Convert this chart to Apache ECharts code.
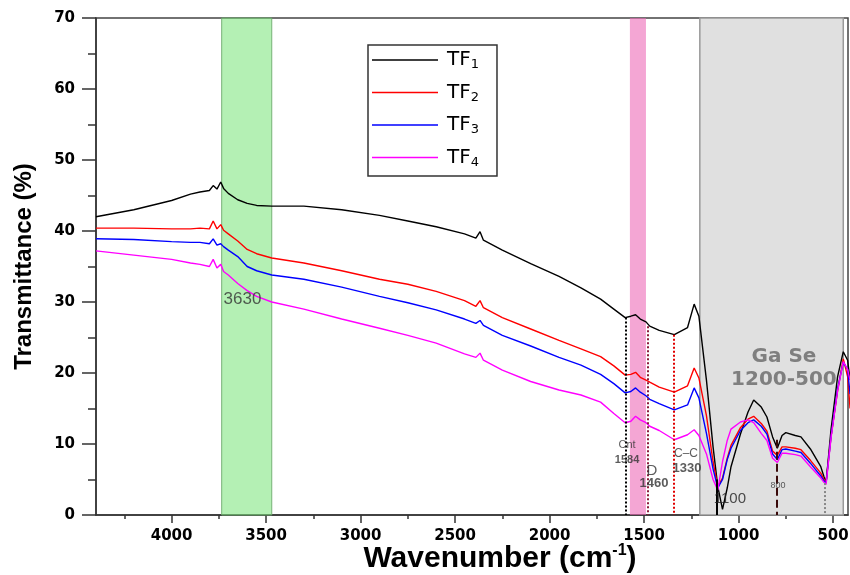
<!DOCTYPE html>
<html style="height: 100%">

<head>
    <meta charset="utf-8">
</head>

<body style="height: 100%; margin: 0; background: #fff">
    <div id="container" style="width: 850px; height: 575px"></div>
    <script type="text/javascript" src="https://cdn.jsdelivr.net/npm/echarts@6/dist/echarts.min.js"></script>
    <script type="text/javascript">
        // wavenumber grid (cm-1), shared by all four spectra
        var wn = [4400, 4200, 4000, 3900, 3850, 3800, 3780, 3760, 3740, 3725,
            3700, 3650, 3600, 3550, 3470, 3300, 3100, 2900, 2750, 2600,
            2450, 2390, 2368, 2350, 2250, 2100, 1950, 1834, 1730, 1660,
            1600, 1570, 1545, 1520, 1490, 1470, 1420, 1340, 1270, 1235,
            1210, 1170, 1135, 1110, 1085, 1060, 1040, 990, 950, 920,
            880, 850, 820, 795, 770, 750, 700, 670, 620, 565,
            548, 537, 511, 476, 446, 423, 410];

        var tf1 = [42.0, 43.0, 44.3, 45.2, 45.5, 45.7, 46.4, 45.9, 46.9, 46.0,
            45.3, 44.4, 43.9, 43.6, 43.5, 43.5, 43.0, 42.2, 41.4, 40.6,
            39.6, 39.0, 39.9, 38.7, 37.3, 35.4, 33.6, 32.0, 30.4, 29.0,
            27.8, 28.0, 28.2, 27.6, 27.2, 26.6, 26.0, 25.4, 26.4, 29.7,
            28.0, 19.0, 9.6, 4.0, 0.8, 3.8, 6.8, 11.4, 14.5, 16.2,
            15.2, 13.8, 11.0, 9.4, 11.2, 11.6, 11.2, 11.0, 9.3, 6.8,
            5.4, 4.5, 12.0, 19.5, 23.0, 21.8, 19.0];
        var tf2 = [40.4, 40.4, 40.3, 40.3, 40.4, 40.3, 41.4, 40.3, 40.9, 40.1,
            39.6, 38.6, 37.4, 36.8, 36.2, 35.5, 34.4, 33.2, 32.5, 31.5,
            30.2, 29.4, 30.2, 29.2, 27.8, 26.2, 24.6, 23.4, 22.3, 21.0,
            19.7, 19.8, 20.1, 19.4, 19.0, 18.7, 18.0, 17.3, 18.2, 20.7,
            19.3, 14.0, 7.5, 4.0, 5.2, 8.0, 9.8, 12.3, 13.5, 13.9,
            12.9, 11.8, 9.0, 8.4, 9.6, 9.6, 9.4, 9.2, 7.7, 5.9,
            5.0, 4.7, 11.0, 17.5, 22.0, 19.5, 15.0];
        var tf3 = [38.9, 38.8, 38.5, 38.4, 38.4, 38.2, 38.9, 38.0, 38.2, 37.8,
            37.3, 36.4, 35.0, 34.4, 33.8, 33.2, 32.1, 30.8, 29.9, 28.9,
            27.6, 27.0, 27.4, 26.7, 25.3, 23.8, 22.2, 21.1, 19.8, 18.5,
            17.2, 17.4, 17.9, 17.3, 16.8, 16.3, 15.7, 14.8, 15.5, 17.9,
            16.5, 11.5, 6.5, 3.8, 5.0, 7.8, 9.4, 11.9, 13.0, 13.4,
            12.5, 11.4, 8.6, 7.8, 9.2, 9.3, 9.0, 8.8, 7.3, 5.5,
            4.8, 4.5, 11.0, 17.8, 21.5, 20.5, 17.0];
        var tf4 = [37.2, 36.6, 36.0, 35.5, 35.3, 35.0, 36.0, 34.8, 35.3, 34.3,
            33.8, 32.6, 31.6, 30.8, 30.0, 29.0, 27.6, 26.3, 25.3, 24.2,
            22.7, 22.2, 22.8, 21.8, 20.4, 18.8, 17.6, 16.9, 15.9, 14.3,
            13.0, 13.2, 13.9, 13.4, 13.0, 12.5, 11.9, 10.6, 11.3, 12.0,
            11.2, 8.6, 5.0, 3.5, 7.5, 10.5, 12.1, 13.1, 13.4, 13.0,
            11.5, 10.5, 8.0, 7.4, 8.7, 8.7, 8.5, 8.3, 6.8, 5.2,
            4.6, 4.3, 10.8, 17.5, 21.6, 20.5, 19.0];

        var seriesNames = ['TF1', 'TF2', 'TF3', 'TF4'];
        var seriesColors = ['#000000', '#ff0000', '#0000ff', '#ff00ff'];
        var spectra = [tf1, tf2, tf3, tf4];

        var xTicks = [4000, 3500, 3000, 2500, 2000, 1500, 1000, 500];
        var xMinorTicks = [4250, 3750, 3250, 2750, 2250, 1750, 1250, 750];

        // shaded regions [from, to] in cm-1
        var greyBand = [1205, 446];
        var greenBand = [3735, 3470];
        var pinkBand = [1575, 1490];

        // peak marker lines: position, top of line (%)
        var markPos = [1597, 1479, 1342, 1116, 798, 543];
        var markTop = [27.8, 26.6, 25.4, 5.0, 10.6, 4.5];

        // annotation texts and their anchors (wavenumber, %)
        var annText = ['3630', 'Ga Se', '1200-500', 'Cnt', '1584', 'D', '1460', 'C\u2013C', '1330', '1100', '800'];
        var annWn = [3625, 760, 760, 1590, 1590, 1458, 1448, 1278, 1273, 1046, 792];
        var annVal = [30.4, 22.3, 19.0, 9.9, 7.7, 6.2, 4.4, 8.7, 6.6, 2.3, 4.2];

        var annStyle = [
            { fontSize: 17, color: '#333' },
            { fontFamily: 'DejaVu Sans', fontSize: 20, fontWeight: 'bold', color: '#666' },
            { fontFamily: 'DejaVu Sans', fontSize: 20, fontWeight: 'bold', color: '#666' },
            { fontSize: 11, color: '#333' },
            { fontSize: 11, fontWeight: 'bold', color: '#333' },
            { fontSize: 15, color: '#333' },
            { fontSize: 13, fontWeight: 'bold', color: '#333' },
            { fontSize: 12, color: '#333' },
            { fontSize: 13, fontWeight: 'bold', color: '#333' },
            { fontSize: 15, color: '#222' },
            { fontSize: 9, color: '#333' }
        ];
        var markStyle = [
            { color: '#000', type: 'dotted', width: 2 },
            { color: '#8b1a3a', type: 'dotted', width: 2 },
            { color: '#e00000', type: 'dotted', width: 2 },
            { color: '#000', type: 'solid', width: 2 },
            { color: '#3a0a0a', type: 'dashed', width: 2 },
            { color: '#888', type: 'dotted', width: 2 }
        ];

        var dom = document.getElementById("container");
        var myChart = echarts.init(dom);

        var series = [];

        series.push({
            name: 'bands-under',
            type: 'line',
            data: [],
            z: 1,
            silent: true,
            markArea: {
                silent: true,
                itemStyle: { color: '#e0e0e0', borderColor: '#999', borderWidth: 1.5 },
                data: [[{ xAxis: greyBand[0] }, { xAxis: greyBand[1] }]]
            }
        });

        spectra.forEach(function (vals, i) {
            series.push({
                name: seriesNames[i],
                type: 'line',
                symbol: 'none',
                z: 2,
                lineStyle: { color: seriesColors[i], width: 1.4 },
                itemStyle: { color: seriesColors[i] },
                data: wn.map(function (w, k) { return [w, vals[k]]; })
            });
        });

        series.push({
            name: 'bands-over',
            type: 'line',
            data: [],
            z: 5,
            silent: true,
            markArea: {
                silent: true,
                data: [
                    [{ xAxis: greenBand[0], itemStyle: { color: 'rgba(119,228,119,0.55)', borderColor: 'rgba(110,170,110,0.9)', borderWidth: 1 } },
                    { xAxis: greenBand[1] }],
                    [{ xAxis: pinkBand[0], itemStyle: { color: 'rgba(237,107,183,0.6)' } },
                    { xAxis: pinkBand[1] }]
                ]
            }
        });

        series.push({
            name: 'marks',
            type: 'scatter',
            z: 6,
            symbolSize: 0,
            silent: true,
            data: annText.map(function (t, i) {
                return {
                    value: [annWn[i], annVal[i]],
                    label: Object.assign({
                        show: true,
                        position: 'inside',
                        formatter: t,
                        fontFamily: 'Liberation Sans'
                    }, annStyle[i])
                };
            }),
            markLine: {
                silent: true,
                symbol: ['none', 'none'],
                label: { show: false },
                data: markPos.map(function (p, i) {
                    return [{ coord: [p, markTop[i]], lineStyle: markStyle[i] }, { coord: [p, 0] }];
                })
            }
        });

        var axisFont = { fontFamily: 'DejaVu Sans', fontWeight: 'bold', fontSize: 15, color: '#000' };

        var option = {
            animation: false,
            backgroundColor: '#fff',
            grid: {
                left: 96, right: 2, top: 18, bottom: 60,
                containLabel: false,
                outerBoundsMode: 'none',
                show: true, borderColor: '#444', borderWidth: 1.5
            },
            legend: {
                data: seriesNames,
                orient: 'vertical',
                left: 368,
                top: 45,
                padding: [5, 18, 7, 4],
                icon: 'rect',
                itemWidth: 66,
                itemHeight: 1.5,
                itemGap: 11,
                borderColor: '#333',
                borderWidth: 1.5,
                backgroundColor: '#fff',
                formatter: function (name) {
                    return '{t|TF}{s|' + name.slice(2) + '}';
                },
                textStyle: {
                    rich: {
                        t: { fontFamily: 'DejaVu Sans', fontSize: 20, color: '#000', padding: [0, 0, 0, 4] },
                        s: { fontFamily: 'DejaVu Sans', fontSize: 13, color: '#000', padding: [10, 0, 0, 0] }
                    }
                }
            },
            xAxis: [{
                type: 'value',
                inverse: true,
                min: 421,
                max: 4400,
                name: '{a|Wavenumber (cm}{b|-1}{a|)}',
                nameLocation: 'middle',
                nameGap: 28,
                nameMoveOverlap: false,
                nameTextStyle: {
                    padding: [0, 0, 0, 56],
                    rich: {
                        a: { fontFamily: 'Liberation Sans', fontWeight: 'bold', fontSize: 30, color: '#000' },
                        b: { fontFamily: 'Liberation Sans', fontWeight: 'bold', fontSize: 16, color: '#000', padding: [0, 0, 16, 0] }
                    }
                },
                axisLine: { lineStyle: { color: '#333', width: 1.5 } },
                axisTick: { customValues: xTicks, length: 8, lineStyle: { color: '#333', width: 1.5 } },
                axisLabel: Object.assign({
                    customValues: xTicks,
                    margin: 14,
                    formatter: function (v) { return String(v); }
                }, axisFont),
                splitLine: { show: false }
            }, {
                type: 'value',
                inverse: true,
                min: 421,
                max: 4400,
                position: 'bottom',
                axisLine: { show: false },
                axisTick: { customValues: xMinorTicks, length: 4, lineStyle: { color: '#333', width: 1.5 } },
                axisLabel: { show: false },
                splitLine: { show: false }
            }],
            yAxis: {
                type: 'value',
                min: 0,
                max: 70,
                interval: 10,
                name: 'Transmittance (%)',
                nameLocation: 'middle',
                nameGap: 60,
                nameMoveOverlap: false,
                nameTextStyle: { fontFamily: 'Liberation Sans', fontWeight: 'bold', fontSize: 24, color: '#000' },
                axisLine: { show: true, lineStyle: { color: '#333', width: 1.5 } },
                axisTick: { show: true, length: 14, lineStyle: { color: '#333', width: 1.5 } },
                minorTick: { show: true, splitNumber: 2, length: 8, lineStyle: { color: '#333', width: 1.5 } },
                axisLabel: Object.assign({ margin: 21 }, axisFont),
                splitLine: { show: false }
            },
            series: series
        };

        myChart.setOption(option);
    </script>
</body>

</html>
